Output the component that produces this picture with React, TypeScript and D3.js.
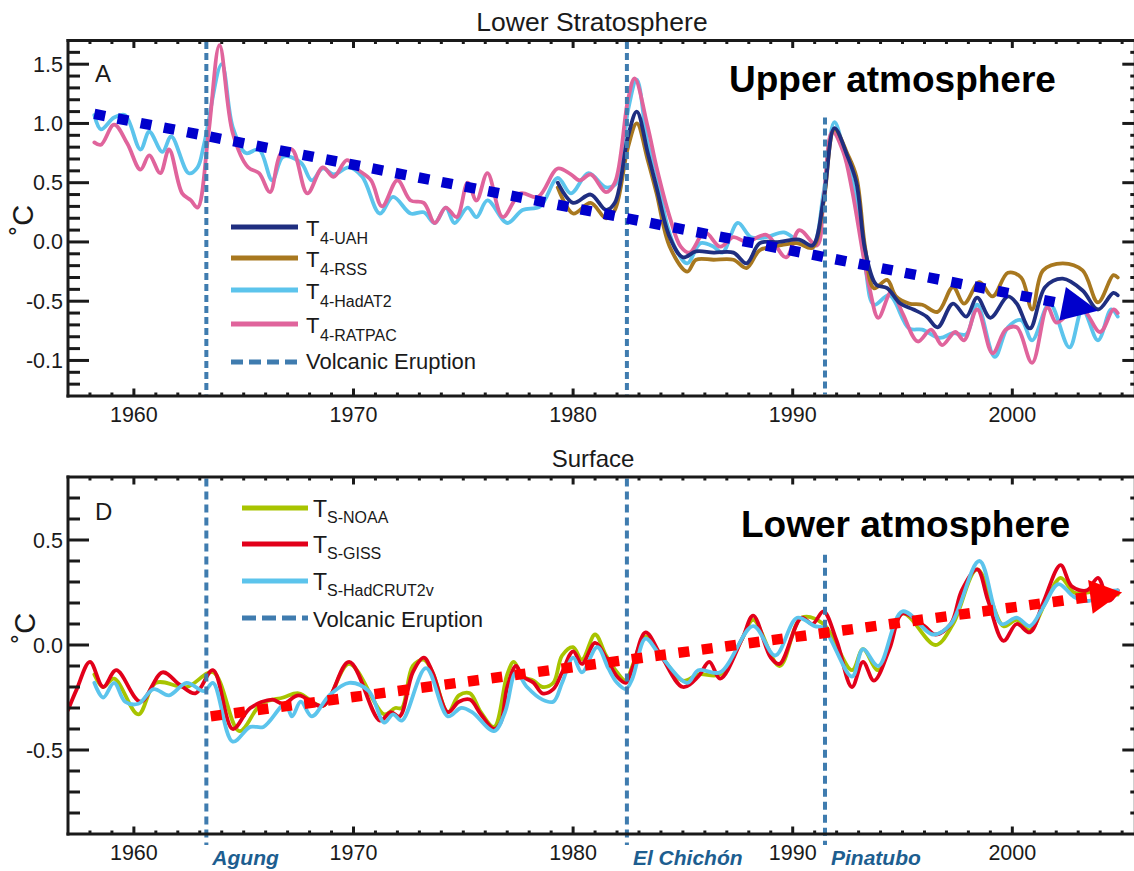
import React, { useMemo } from "react";
import * as d3 from "d3";

type Pt = [number, number];

// ---------- Upper panel (Lower Stratosphere) series : [year, °C] ----------
const T4_HADAT2: Pt[] = [
  [1958.2, 1.07], [1958.5, 0.95], [1959.1, 1.05], [1959.6, 1.07], [1960.3, 0.78], [1960.7, 0.93],
  [1961.3, 0.76], [1961.7, 0.89], [1962.5, 0.58], [1962.9, 0.63], [1963.2, 0.83], [1964.0, 1.5],
  [1964.5, 0.97], [1965.1, 0.75], [1965.7, 0.78], [1966.3, 0.52], [1966.8, 0.72], [1967.6, 0.67],
  [1968.1, 0.52], [1968.6, 0.62], [1969.1, 0.57], [1969.8, 0.63], [1970.4, 0.55], [1971.2, 0.24],
  [1971.8, 0.38], [1972.6, 0.24], [1973.2, 0.25], [1973.7, 0.16], [1974.2, 0.29], [1974.6, 0.16],
  [1975.2, 0.29], [1975.6, 0.21], [1976.1, 0.35], [1977.0, 0.16], [1977.7, 0.27], [1978.5, 0.3],
  [1979.3, 0.54], [1979.9, 0.41], [1980.7, 0.58], [1981.5, 0.46], [1982.0, 0.5], [1982.5, 1.11],
  [1982.9, 1.37], [1983.4, 0.83], [1983.8, 0.58], [1984.3, 0.13], [1984.7, -0.07], [1985.2, -0.18],
  [1985.8, -0.01], [1986.4, -0.04], [1986.8, -0.09], [1987.5, 0.16], [1988.1, 0.04], [1988.8, 0.04],
  [1989.6, 0.08], [1990.3, 0.0], [1990.9, -0.04], [1991.4, 0.41], [1991.9, 1.01], [1992.4, 0.72],
  [1992.8, 0.45], [1993.3, -0.2], [1993.7, -0.53], [1994.4, -0.45], [1995.3, -0.73], [1995.9, -0.74],
  [1996.7, -0.81], [1997.3, -0.77], [1997.9, -0.78], [1998.4, -0.53], [1999.2, -0.97], [1999.8, -0.72],
  [2000.4, -0.66], [2000.9, -0.83], [2001.7, -0.52], [2002.6, -0.89], [2003.2, -0.57], [2003.9, -0.83],
  [2004.5, -0.57], [2004.8, -0.63],
];

const T4_RATPAC: Pt[] = [
  [1958.2, 0.84], [1958.5, 0.82], [1959.1, 0.99], [1959.7, 0.83], [1960.3, 0.61], [1960.7, 0.73],
  [1961.2, 0.58], [1961.6, 0.78], [1962.2, 0.41], [1962.6, 0.35], [1962.9, 0.29], [1963.4, 0.92],
  [1963.9, 1.66], [1964.5, 0.92], [1965.2, 0.63], [1965.7, 0.58], [1966.2, 0.42], [1966.7, 0.75],
  [1967.2, 0.78], [1967.9, 0.41], [1968.6, 0.63], [1969.1, 0.55], [1969.7, 0.69], [1970.2, 0.61],
  [1970.8, 0.52], [1971.3, 0.3], [1972.0, 0.52], [1972.6, 0.35], [1973.2, 0.33], [1973.7, 0.16],
  [1974.2, 0.29], [1974.7, 0.21], [1975.2, 0.5], [1975.6, 0.35], [1976.1, 0.58], [1976.8, 0.21],
  [1977.6, 0.41], [1978.4, 0.38], [1979.3, 0.62], [1979.9, 0.57], [1980.3, 0.52], [1980.8, 0.57],
  [1981.5, 0.42], [1981.9, 0.5], [1982.5, 1.2], [1982.8, 1.38], [1983.4, 0.97], [1983.8, 0.63],
  [1984.4, 0.21], [1984.9, -0.04], [1985.3, -0.09], [1986.0, 0.08], [1986.7, -0.04], [1987.3, 0.04],
  [1987.9, 0.0], [1988.8, 0.06], [1989.7, -0.13], [1990.3, 0.1], [1991.1, -0.03], [1991.4, 0.35],
  [1991.8, 0.93], [1992.3, 0.76], [1992.7, 0.44], [1993.2, -0.1], [1993.5, -0.39], [1993.9, -0.64],
  [1994.5, -0.42], [1995.0, -0.6], [1995.7, -0.84], [1996.3, -0.74], [1996.8, -0.87], [1997.4, -0.76],
  [1997.8, -0.83], [1998.4, -0.57], [1999.1, -0.94], [1999.7, -0.74], [2000.2, -0.72], [2000.9, -1.02],
  [2001.6, -0.55], [2002.0, -0.68], [2002.5, -0.62], [2003.2, -0.57], [2004.0, -0.76], [2004.6, -0.57],
  [2004.8, -0.6],
];

const T4_UAH: Pt[] = [
  [1979.3, 0.5], [1980.0, 0.33], [1980.8, 0.4], [1981.5, 0.27], [1981.9, 0.33], [1982.5, 0.89],
  [1982.9, 1.1], [1983.4, 0.75], [1983.8, 0.46], [1984.4, 0.04], [1985.0, -0.13], [1985.6, -0.08],
  [1986.4, -0.09], [1987.3, -0.09], [1987.9, -0.18], [1988.5, -0.01], [1989.4, 0.0], [1990.3, 0.02],
  [1990.9, -0.03], [1991.4, 0.35], [1991.9, 0.96], [1992.5, 0.72], [1992.9, 0.5], [1993.3, -0.07],
  [1993.8, -0.36], [1994.3, -0.39], [1994.9, -0.52], [1995.5, -0.57], [1996.1, -0.63], [1996.6, -0.72],
  [1997.3, -0.52], [1997.9, -0.63], [1998.4, -0.47], [1999.0, -0.64], [1999.8, -0.46], [2000.2, -0.52],
  [2000.8, -0.73], [2001.5, -0.38], [2002.3, -0.31], [2003.2, -0.41], [2003.9, -0.57], [2004.6, -0.43],
  [2004.8, -0.45],
];

const T4_RSS: Pt[] = [
  [1979.3, 0.46], [1980.0, 0.24], [1980.8, 0.33], [1981.5, 0.2], [1981.9, 0.27], [1982.5, 0.8],
  [1982.9, 1.0], [1983.4, 0.69], [1983.8, 0.41], [1984.4, -0.04], [1985.2, -0.25], [1985.6, -0.15],
  [1986.4, -0.15], [1987.3, -0.15], [1987.9, -0.22], [1988.5, -0.07], [1989.4, -0.03], [1990.2, -0.01],
  [1990.9, -0.05], [1991.4, 0.33], [1991.9, 0.95], [1992.5, 0.74], [1992.9, 0.55], [1993.3, -0.05],
  [1993.7, -0.39], [1994.3, -0.32], [1994.7, -0.46], [1995.3, -0.52], [1995.9, -0.53], [1996.6, -0.59],
  [1997.3, -0.38], [1997.8, -0.52], [1998.5, -0.34], [1999.1, -0.46], [1999.8, -0.26], [2000.4, -0.3],
  [2000.9, -0.57], [2001.4, -0.24], [2002.3, -0.18], [2003.2, -0.24], [2003.9, -0.51], [2004.6, -0.28],
  [2004.8, -0.3],
];

// ---------- Lower panel (Surface) series ----------
const TS_GISS: Pt[] = [
  [1957.0, -0.31], [1957.4, -0.21], [1958.0, -0.08], [1958.6, -0.2], [1959.2, -0.12], [1960.3, -0.27],
  [1961.3, -0.13], [1962.1, -0.19], [1962.8, -0.23], [1963.6, -0.12], [1964.5, -0.4], [1965.3, -0.3],
  [1966.3, -0.26], [1966.8, -0.28], [1967.5, -0.24], [1968.6, -0.29], [1969.8, -0.08], [1971.2, -0.36],
  [1971.7, -0.32], [1972.1, -0.34], [1972.7, -0.13], [1973.2, -0.06], [1973.6, -0.13], [1974.3, -0.32],
  [1974.8, -0.27], [1975.3, -0.26], [1975.8, -0.33], [1976.4, -0.4], [1976.7, -0.37], [1977.0, -0.2],
  [1977.4, -0.1], [1977.7, -0.15], [1978.2, -0.18], [1978.6, -0.23], [1979.1, -0.21], [1979.5, -0.13],
  [1980.0, -0.03], [1980.4, -0.09], [1981.0, 0.01], [1981.5, -0.06], [1982.0, -0.15], [1982.4, -0.18],
  [1982.7, -0.11], [1983.3, 0.06], [1984.0, -0.05], [1985.0, -0.2], [1985.7, -0.15], [1986.2, -0.08],
  [1986.7, -0.16], [1987.7, 0.03], [1988.2, 0.14], [1989.0, -0.06], [1989.4, -0.09], [1990.4, 0.13],
  [1990.9, 0.1], [1991.4, 0.16], [1992.0, 0.02], [1992.7, -0.2], [1993.2, -0.08], [1993.7, -0.17],
  [1994.4, -0.02], [1995.0, 0.15], [1996.0, 0.09], [1996.5, 0.05], [1997.2, 0.1], [1997.7, 0.26],
  [1998.4, 0.36], [1998.9, 0.21], [1999.6, 0.02], [2000.2, 0.1], [2000.8, 0.06], [2001.4, 0.2],
  [2002.2, 0.38], [2002.7, 0.28], [2003.4, 0.26], [2003.9, 0.32], [2004.4, 0.21], [2004.8, 0.26],
];

const TS_HADCRUT2V: Pt[] = [
  [1958.2, -0.18], [1958.6, -0.25], [1959.1, -0.18], [1959.6, -0.27], [1960.2, -0.28], [1960.9, -0.21],
  [1961.6, -0.24], [1962.4, -0.18], [1963.2, -0.22], [1963.6, -0.18], [1964.5, -0.46], [1965.3, -0.39],
  [1965.9, -0.39], [1966.9, -0.28], [1967.2, -0.34], [1967.6, -0.27], [1968.1, -0.34], [1968.9, -0.24],
  [1969.8, -0.18], [1970.7, -0.22], [1971.4, -0.37], [1971.8, -0.33], [1972.2, -0.36], [1973.3, -0.11],
  [1974.3, -0.34], [1974.9, -0.3], [1975.4, -0.32], [1976.4, -0.41], [1976.9, -0.32], [1977.4, -0.13],
  [1977.9, -0.2], [1978.6, -0.26], [1979.1, -0.27], [1979.5, -0.18], [1980.0, -0.06], [1980.4, -0.13],
  [1981.1, -0.01], [1981.6, -0.11], [1982.0, -0.18], [1982.4, -0.21], [1982.7, -0.16], [1983.3, 0.03],
  [1983.9, -0.04], [1985.2, -0.18], [1985.7, -0.12], [1986.7, -0.13], [1988.2, 0.09], [1989.2, -0.05],
  [1990.2, 0.13], [1991.0, 0.09], [1991.4, 0.08], [1992.7, -0.15], [1993.2, -0.02], [1993.9, -0.1],
  [1995.0, 0.16], [1996.4, 0.05], [1997.2, 0.1], [1998.5, 0.4], [1999.5, 0.1], [2000.2, 0.13],
  [2000.8, 0.09], [2001.4, 0.18], [2002.1, 0.29], [2002.8, 0.23], [2003.5, 0.21], [2004.2, 0.25],
  [2004.8, 0.26],
];

const TS_NOAA: Pt[] = [
  [1958.2, -0.14], [1958.6, -0.2], [1959.1, -0.16], [1960.2, -0.33], [1961.0, -0.18], [1962.4, -0.2],
  [1963.6, -0.13], [1964.8, -0.41], [1965.8, -0.28], [1966.8, -0.25], [1967.5, -0.23], [1968.6, -0.29],
  [1969.8, -0.09], [1971.4, -0.33], [1971.9, -0.3], [1972.2, -0.3], [1972.7, -0.1], [1973.2, -0.07],
  [1973.6, -0.13], [1974.3, -0.32], [1974.8, -0.24], [1975.3, -0.23], [1975.8, -0.32], [1976.4, -0.39],
  [1977.0, -0.14], [1977.3, -0.08], [1977.7, -0.15], [1978.2, -0.17], [1978.6, -0.2], [1979.1, -0.18],
  [1979.5, -0.05], [1980.0, -0.01], [1980.4, -0.07], [1981.0, 0.05], [1981.5, -0.05], [1982.0, -0.13],
  [1982.4, -0.17], [1982.7, -0.1], [1983.3, 0.04], [1984.0, -0.05], [1985.0, -0.17], [1985.7, -0.14],
  [1986.7, -0.14], [1987.7, 0.03], [1988.2, 0.12], [1989.4, -0.1], [1990.4, 0.13], [1991.4, 0.1],
  [1992.7, -0.12], [1993.2, -0.02], [1993.9, -0.12], [1995.0, 0.15], [1996.5, 0.0], [1997.3, 0.1],
  [1998.4, 0.36], [1999.6, 0.09], [2000.2, 0.12], [2000.8, 0.07], [2001.5, 0.2], [2002.2, 0.32],
  [2002.8, 0.25], [2003.4, 0.25], [2004.4, 0.26], [2004.8, 0.24],
];

// ---------- Annotations ----------
const VOLCANO_NAMES = ["Agung", "El Chichón", "Pinatubo"];
const VOLCANO_YEARS = [1963.3, 1982.45, 1991.47];
const VOLCANO_UPPER_FROM = [1.7, 1.7, 1.05];
const VOLCANO_LOWER_FROM = [0.8, 0.8, 0.43];
const TREND_UPPER: Pt[] = [[1958.2, 1.08], [2003.9, -0.58]];
const TREND_LOWER: Pt[] = [[1963.5, -0.34], [2005.0, 0.25]];

const YEAR_TICKS = [1960, 1970, 1980, 1990, 2000];
const YEAR_LABELS = ["1960", "1970", "1980", "1990", "2000"];
const UPPER_TICKS = [1.5, 1.0, 0.5, 0.0, -0.5, -1.0];
const UPPER_LABELS = ["1.5", "1.0", "0.5", "0.0", "-0.5", "-0.1"];
const LOWER_TICKS = [0.5, 0.0, -0.5];
const LOWER_LABELS = ["0.5", "0.0", "-0.5"];

const UPPER_LEGEND = ["4-UAH", "4-RSS", "4-HadAT2", "4-RATPAC"];
const LOWER_LEGEND = ["S-NOAA", "S-GISS", "S-HadCRUT2v"];

const C_UAH = "#1f2e80";
const C_RSS = "#a8781f";
const C_HAD = "#5cc4ec";
const C_RAT = "#e0649c";
const C_NOAA = "#a8c400";
const C_GISS = "#e2001a";
const C_CRU = "#5cc4ec";
const C_VOLC = "#3f7caf";
const C_VLAB = "#1d5e90";

const FONT = "'Liberation Sans', Arial, Helvetica, sans-serif";
const INK = "#1a1a1a";

const W = 1134;
const H = 871;
const LEFT = 68;
const RIGHT = 1135.3;
const U_TOP = 40.5, U_BOT = 396;
const L_TOP = 477, L_BOT = 834;

const x = d3.scaleLinear().domain([1957, 2005.6]).range([LEFT, RIGHT]);
const yU = d3.scaleLinear().domain([-1.3, 1.7]).range([U_BOT, U_TOP]);
const yL = d3.scaleLinear().domain([-0.9, 0.8]).range([L_BOT, L_TOP]);

function Frame({ y, top, bot, tenthsFrom, tenthsTo, majors, labels }: any) {
  const years = d3.range(1958, 2006);
  const tenths = d3.range(tenthsFrom, tenthsTo + 1);
  const sw = 3;
  return (
    <g stroke={INK} strokeWidth={sw}>
      {years.map((yr) => {
        const major = yr % 10 === 0;
        const len = major ? 7.5 : 3.5;
        return (
          <g key={yr}>
            <line x1={x(yr)} x2={x(yr)} y1={bot} y2={bot - len} />
            <line x1={x(yr)} x2={x(yr)} y1={top} y2={top + len} />
          </g>
        );
      })}
      {tenths.map((t) => {
        const v = t / 10;
        const major = t % 5 === 0;
        return (
          <g key={t}>
            <line x1={LEFT} x2={LEFT + (major ? 21 : 12)} y1={y(v)} y2={y(v)} />
            <line x1={RIGHT} x2={RIGHT - (major ? 13 : 5)} y1={y(v)} y2={y(v)} />
          </g>
        );
      })}
      <line x1={LEFT} x2={LEFT} y1={top - sw / 2} y2={bot + sw / 2} />
      <line x1={RIGHT} x2={RIGHT} y1={top - sw / 2} y2={bot + sw / 2} />
      <line x1={LEFT - sw / 2} x2={RIGHT} y1={top} y2={top} />
      <line x1={LEFT - sw / 2} x2={RIGHT} y1={bot} y2={bot} />
      <g stroke="none" fill={INK} fontFamily={FONT} fontSize={21.5}>
        {majors.map((v: number, i: number) => (
          <text key={i} x={63} y={y(v) + 7.5} textAnchor="end">{labels[i]}</text>
        ))}
        {YEAR_TICKS.map((yr, i) => (
          <text key={yr} x={x(yr)} y={bot + 25.5} textAnchor="middle">{YEAR_LABELS[i]}</text>
        ))}
      </g>
    </g>
  );
}

function Trend({ pts, y, color, headLen, headHalf }: any) {
  const x0 = x(pts[0][0]), y0 = y(pts[0][1]);
  const x1 = x(pts[1][0]), y1 = y(pts[1][1]);
  const dx = x1 - x0, dy = y1 - y0;
  const L = Math.hypot(dx, dy);
  const ux = dx / L, uy = dy / L;
  const bx = x1 - ux * headLen, by = y1 - uy * headLen;
  const px = -uy, py = ux;
  const tri = [
    [x1, y1],
    [bx + px * headHalf, by + py * headHalf],
    [bx - px * headHalf, by - py * headHalf],
  ];
  return (
    <g>
      <line x1={x0} y1={y0} x2={bx + ux * 2} y2={by + uy * 2} stroke={color} strokeWidth={10.5} strokeDasharray="11 12.6" />
      <polygon points={tri.map((p) => p.join(",")).join(" ")} fill={color} />
    </g>
  );
}

export default function App() {
  const paths = useMemo(() => {
    const mk = (y: any) =>
      d3.line<Pt>().x((d) => x(d[0])).y((d) => y(d[1])).curve(d3.curveCatmullRom.alpha(0.5));
    const lu = mk(yU);
    const ll = mk(yL);
    return {
      had: lu(T4_HADAT2) || "",
      rat: lu(T4_RATPAC) || "",
      rss: lu(T4_RSS) || "",
      uah: lu(T4_UAH) || "",
      noaa: ll(TS_NOAA) || "",
      giss: ll(TS_GISS) || "",
      cru: ll(TS_HADCRUT2V) || "",
    };
  }, []);

  const lineProps = { fill: "none", strokeWidth: 3.8, strokeLinejoin: "round" as const, strokeLinecap: "round" as const };

  const upperLegendColors = [C_UAH, C_RSS, C_HAD, C_RAT];
  const upperLegendY = [227, 258, 290, 324];
  const lowerLegendColors = [C_NOAA, C_GISS, C_CRU];
  const lowerLegendY = [508, 544, 581];

  return (
    <svg width={W} height={H} viewBox={`0 0 ${W} ${H}`} style={{ position: "absolute", left: 0, top: 0, background: "#fff" }}>
      <rect x={0} y={0} width={W} height={H} fill="#fff" />

      {/* ---------------- Upper panel ---------------- */}
      <text x={592} y={31} textAnchor="middle" fontFamily={FONT} fontSize={26.5} fill={INK}>Lower Stratosphere</text>
      <g clipPath="url(#clipU)">
        <path d={paths.had} stroke={C_HAD} {...lineProps} />
        <path d={paths.rat} stroke={C_RAT} {...lineProps} />
        <path d={paths.rss} stroke={C_RSS} {...lineProps} />
        <path d={paths.uah} stroke={C_UAH} {...lineProps} />
      </g>
      {VOLCANO_YEARS.map((vy, i) => (
        <line key={"vu" + i} x1={x(vy)} x2={x(vy)} y1={Math.max(yU(VOLCANO_UPPER_FROM[i]), U_TOP + 1.5)} y2={U_BOT - 1.5}
          stroke={C_VOLC} strokeWidth={4} strokeDasharray="7 4" />
      ))}
      <Trend pts={TREND_UPPER} y={yU} color="#0000cc" headLen={36} headHalf={17} />
      <Frame y={yU} top={U_TOP} bot={U_BOT} tenthsFrom={-12} tenthsTo={16} majors={UPPER_TICKS} labels={UPPER_LABELS} />
      <text x={95} y={82} fontFamily={FONT} fontSize={24} fill={INK}>A</text>
      <text x={729} y={92} fontFamily={FONT} fontSize={37} fontWeight="bold" fill="#000">Upper atmosphere</text>
      <text transform="translate(33,220) rotate(-90)" textAnchor="middle" fontFamily={FONT} fontSize={29} fill={INK}>˚C</text>

      {/* legend upper */}
      <g fontFamily={FONT} fill={INK}>
        {UPPER_LEGEND.map((lab, i) => (
          <g key={lab}>
            <line x1={231} x2={298} y1={upperLegendY[i]} y2={upperLegendY[i]} stroke={upperLegendColors[i]} strokeWidth={5} />
            <text x={306} y={upperLegendY[i] + 8.5} fontSize={22}>T</text>
            <text x={320} y={upperLegendY[i] + 16.5} fontSize={16}>{lab}</text>
          </g>
        ))}
        <line x1={231} x2={298} y1={362} y2={362} stroke={C_VOLC} strokeWidth={5} strokeDasharray="12 6" />
        <text x={306} y={369} fontSize={22}>Volcanic Eruption</text>
      </g>

      {/* ---------------- Lower panel ---------------- */}
      <text x={593} y={467} textAnchor="middle" fontFamily={FONT} fontSize={24} fill={INK}>Surface</text>
      <g clipPath="url(#clipL)">
        <path d={paths.noaa} stroke={C_NOAA} {...lineProps} />
        <path d={paths.giss} stroke={C_GISS} {...lineProps} />
        <path d={paths.cru} stroke={C_CRU} {...lineProps} />
      </g>
      {VOLCANO_YEARS.map((vy, i) => (
        <line key={"vl" + i} x1={x(vy)} x2={x(vy)} y1={Math.max(yL(VOLCANO_LOWER_FROM[i]), L_TOP + 1.5)} y2={L_BOT + 11}
          stroke={C_VOLC} strokeWidth={4} strokeDasharray="8 5" />
      ))}
      <Trend pts={TREND_LOWER} y={yL} color="#ff0000" headLen={32} headHalf={17} />
      <Frame y={yL} top={L_TOP} bot={L_BOT} tenthsFrom={-8} tenthsTo={7} majors={LOWER_TICKS} labels={LOWER_LABELS} />
      <text x={95} y={520} fontFamily={FONT} fontSize={24} fill={INK}>D</text>
      <text x={741} y={537} fontFamily={FONT} fontSize={37} fontWeight="bold" fill="#000">Lower atmosphere</text>
      <text transform="translate(35,628) rotate(-90)" textAnchor="middle" fontFamily={FONT} fontSize={29} fill={INK}>˚C</text>

      <g fontFamily={FONT} fill={INK}>
        {LOWER_LEGEND.map((lab, i) => (
          <g key={lab}>
            <line x1={242} x2={308} y1={lowerLegendY[i]} y2={lowerLegendY[i]} stroke={lowerLegendColors[i]} strokeWidth={5} />
            <text x={313} y={lowerLegendY[i] + 9} fontSize={23}>T</text>
            <text x={327} y={lowerLegendY[i] + 15} fontSize={16}>{lab}</text>
          </g>
        ))}
        <line x1={242} x2={308} y1={618} y2={618} stroke={C_VOLC} strokeWidth={5} strokeDasharray="14 6" />
        <text x={313} y={627} fontSize={22}>Volcanic Eruption</text>
      </g>

      <g fontFamily={FONT} fontSize={21} fontWeight="bold" fontStyle="italic" fill={C_VLAB}>
        {VOLCANO_NAMES.map((n, i) => (
          <text key={n} x={x(VOLCANO_YEARS[i]) + 6} y={865}>{n}</text>
        ))}
      </g>

      <defs>
        <clipPath id="clipU"><rect x={LEFT} y={U_TOP} width={RIGHT - LEFT} height={U_BOT - U_TOP} /></clipPath>
        <clipPath id="clipL"><rect x={LEFT} y={L_TOP} width={RIGHT - LEFT} height={L_BOT - L_TOP} /></clipPath>
      </defs>
    </svg>
  );
}
